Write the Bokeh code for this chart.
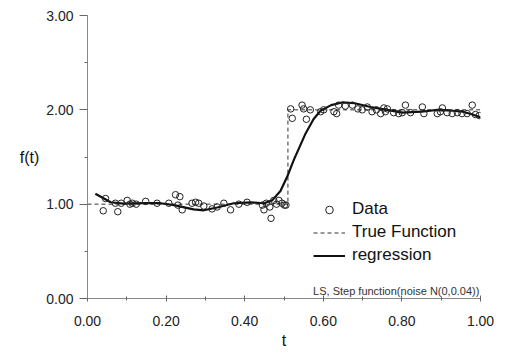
from bokeh.plotting import figure
from bokeh.models import (Range1d, FixedTicker, NumeralTickFormatter, Legend,
                          LegendItem, Label)
from bokeh.embed import file_html
from bokeh.resources import INLINE

# ---- data ----
t_data = [0.040, 0.046, 0.071, 0.077, 0.086, 0.101, 0.108, 0.114, 0.124, 0.148,
          0.177, 0.207, 0.224, 0.230, 0.235, 0.241, 0.266, 0.275, 0.283, 0.296,
          0.317, 0.330, 0.347, 0.364, 0.385, 0.406, 0.445, 0.449, 0.455, 0.464,
          0.467, 0.474, 0.481, 0.487, 0.495, 0.501, 0.505,
          0.517, 0.521, 0.546, 0.550, 0.557, 0.567, 0.593, 0.601, 0.627, 0.634,
          0.639, 0.656, 0.674, 0.688, 0.699, 0.712, 0.724, 0.735, 0.746, 0.754,
          0.758, 0.763, 0.779, 0.792, 0.801, 0.809, 0.822, 0.852, 0.856, 0.890,
          0.898, 0.903, 0.915, 0.928, 0.941, 0.953, 0.966, 0.979, 0.987, 0.997]
y_data = [0.93, 1.06, 1.01, 0.92, 1.01, 1.04, 1.00, 1.01, 1.00, 1.03,
          1.01, 1.01, 1.10, 0.99, 1.08, 0.94, 1.01, 1.02, 1.01, 0.98,
          0.95, 0.97, 1.01, 0.94, 1.00, 1.02, 0.99, 0.94, 1.01, 0.97,
          0.85, 1.04, 1.00, 1.04, 1.01, 0.99, 0.99,
          2.01, 1.91, 2.05, 2.01, 1.90, 2.00, 1.98, 2.00, 1.98, 1.96,
          2.05, 2.04, 2.05, 2.01, 2.00, 2.03, 1.98, 2.00, 1.96, 2.02,
          1.98, 2.01, 1.97, 1.96, 1.97, 2.05, 1.97, 2.03, 1.96, 1.96,
          1.98, 2.02, 1.97, 1.96, 1.97, 1.96, 1.96, 2.05, 1.95, 1.94]

reg_t = [0.020, 0.059, 0.092, 0.143, 0.186, 0.220, 0.270, 0.296, 0.330, 0.372,
         0.415, 0.449, 0.470, 0.491, 0.508, 0.525, 0.555, 0.575, 0.593, 0.620,
         0.650, 0.680, 0.720, 0.763, 0.800, 0.850, 0.890, 0.930, 0.955, 0.980, 1.000]
reg_y = [1.11, 1.02, 1.005, 1.01, 1.01, 0.99, 0.945, 0.935, 0.965, 1.01,
         1.02, 1.01, 1.04, 1.14, 1.29, 1.47, 1.75, 1.90, 1.99, 2.05,
         2.08, 2.07, 2.03, 2.00, 1.97, 1.98, 2.00, 1.99, 1.98, 1.95, 1.92]

true_t = [0.0, 0.51, 0.51, 1.0]
true_y = [1.0, 1.0, 2.0, 2.0]

x_ticks = [0.0, 0.2, 0.4, 0.6, 0.8, 1.0]
x_minor = [0.1, 0.3, 0.5, 0.7, 0.9]
y_ticks = [0.0, 1.0, 2.0, 3.0]
y_minor = [0.5, 1.5, 2.5]

FONT = "Liberation Sans"

p = figure(width=511, height=353, output_backend="svg", toolbar_location=None,
           x_range=Range1d(0, 1), y_range=Range1d(0, 3),
           min_border_left=87, min_border_right=31, min_border_top=15,
           min_border_bottom=55)
p.outline_line_color = None
p.xgrid.visible = False
p.ygrid.visible = False
p.background_fill_color = "white"
p.border_fill_color = "white"

true_r = p.line(true_t, true_y, line_color="#333333", line_width=1, line_dash="4 3")
reg_r = p.line(reg_t, reg_y, line_color="#111111", line_width=2.2)
data_r = p.scatter(t_data, y_data, marker="circle", size=6.5, fill_color=None,
                   line_color="#222222", line_width=1)

for ax in (p.xaxis[0], p.yaxis[0]):
    ax.axis_line_color = "#888888"
    ax.major_tick_line_color = "#666666"
    ax.minor_tick_line_color = "#666666"
    ax.major_label_text_font = FONT
    ax.major_label_text_font_size = "14px"
    ax.major_label_text_color = "#222222"
    ax.axis_label_text_font = FONT
    ax.axis_label_text_font_size = "16px"
    ax.axis_label_text_font_style = "normal"
    ax.axis_label_text_color = "#111111"
    ax.formatter = NumeralTickFormatter(format="0.00")

p.xaxis.ticker = FixedTicker(ticks=x_ticks, minor_ticks=x_minor)
p.yaxis.ticker = FixedTicker(ticks=y_ticks, minor_ticks=y_minor)
p.xaxis.axis_label = "t"
p.yaxis.axis_label = "f(t)"
p.yaxis.axis_label_orientation = "horizontal"
p.yaxis.axis_label_standoff = 4
p.yaxis.major_tick_out = 8
p.yaxis.major_tick_in = 0
p.yaxis.minor_tick_out = 3
p.yaxis.minor_tick_in = 0
p.yaxis.major_label_standoff = 6
p.xaxis.major_tick_out = 3
p.xaxis.major_tick_in = 3
p.xaxis.minor_tick_out = 2
p.xaxis.minor_tick_in = 2
p.xaxis.major_label_standoff = 14
p.xaxis.axis_label_standoff = 3

legend = Legend(items=[LegendItem(label="Data", renderers=[data_r]),
                       LegendItem(label="True Function", renderers=[true_r]),
                       LegendItem(label="regression", renderers=[reg_r])],
                location=(226, 33), orientation="vertical")
legend.border_line_color = None
legend.background_fill_alpha = 0
legend.padding = 0
legend.margin = 0
legend.spacing = 3
legend.glyph_width = 32
legend.glyph_height = 19
legend.label_height = 19
legend.label_standoff = 7
legend.label_text_font = FONT
legend.label_text_font_size = "17px"
legend.label_text_color = "#111111"
p.add_layout(legend, "center")

p.add_layout(Label(x=0.574, y=0.015, text="LS, Step function(noise N(0,0.04))",
                   text_font=FONT, text_font_size="11px", text_color="#333333",
                   text_baseline="bottom"))

open("out.html", "w").write(file_html(p, INLINE))
